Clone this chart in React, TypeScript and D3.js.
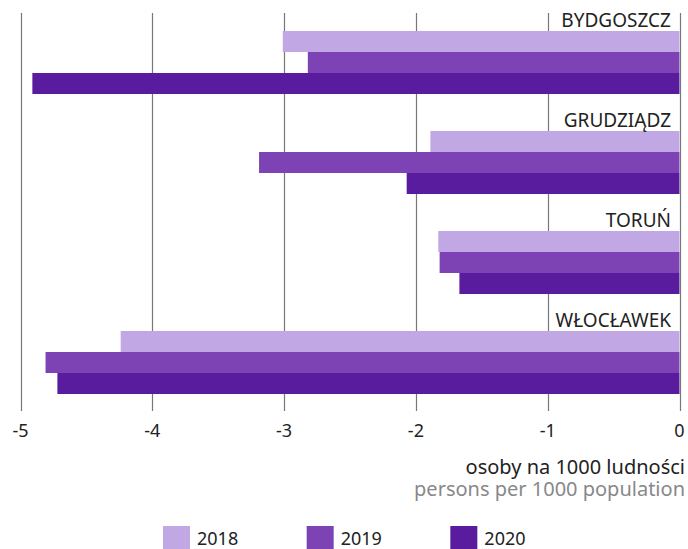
import React, { useEffect, useRef } from "react";
import * as d3 from "d3";

// data
const cities = ["BYDGOSZCZ", "GRUDZIĄDZ", "TORUŃ", "WŁOCŁAWEK"];
const years = ["2018", "2019", "2020"];
const values2018 = [-3.01, -1.89, -1.83, -4.24];
const values2019 = [-2.82, -3.19, -1.82, -4.81];
const values2020 = [-4.91, -2.07, -1.67, -4.72];
const xTicks = [-5, -4, -3, -2, -1, 0];
const colors = ["#c1a7e4", "#7d42b4", "#5a1c9e"];

const W = 688;
const H = 549;
const FONT = "'Noto Sans', 'Open Sans', sans-serif";

const App = () => {
  const ref = useRef<SVGSVGElement>(null);

  useEffect(() => {
    const series = [values2018, values2019, values2020];
    const svg = d3.select(ref.current);
    svg.selectAll("*").remove();

    const x = d3.scaleLinear().domain([-5, 0]).range([20.5, 679.5]);
    const y = d3.scaleBand().domain(cities).range([31, 394]).paddingInner(0.37).paddingOuter(0);
    const yInner = d3.scaleBand().domain(years).range([0, y.bandwidth()]);

    // grid lines (they run down into the tick marks)
    svg
      .append("g")
      .selectAll("line")
      .data(xTicks)
      .join("line")
      .attr("x1", (d) => Math.round(x(d)) + 0.5)
      .attr("x2", (d) => Math.round(x(d)) + 0.5)
      .attr("y1", 13)
      .attr("y2", 411)
      .attr("stroke", "#777")
      .attr("stroke-width", 1.2);

    // bars
    const groups = svg
      .append("g")
      .selectAll("g")
      .data(cities)
      .join("g")
      .attr("transform", (d) => `translate(0,${y(d)})`);

    groups
      .selectAll("rect")
      .data((c, ci) => years.map((yr, yi) => ({ yr, yi, v: series[yi][ci] })))
      .join("rect")
      .attr("x", (d) => x(d.v))
      .attr("y", (d) => yInner(d.yr)!)
      .attr("width", (d) => x(0) - x(d.v))
      .attr("height", yInner.bandwidth())
      .attr("fill", (d) => colors[d.yi]);

    // city labels
    groups
      .append("text")
      .attr("x", 671)
      .attr("y", -4)
      .attr("text-anchor", "end")
      .attr("font-family", FONT)
      .attr("font-size", 19)
      .attr("fill", "#222")
      .text((d) => d);

    // tick labels
    svg
      .append("g")
      .selectAll("text")
      .data(xTicks)
      .join("text")
      .attr("x", (d) => x(d))
      .attr("y", 437)
      .attr("text-anchor", "middle")
      .attr("font-family", FONT)
      .attr("font-size", 18)
      .attr("fill", "#222")
      .text((d) => (d < 0 ? "-" + Math.abs(d) : String(d)));

    // axis titles
    svg
      .append("text")
      .attr("x", 685)
      .attr("y", 474)
      .attr("text-anchor", "end")
      .attr("font-family", FONT)
      .attr("font-size", 20)
      .attr("fill", "#222")
      .text("osoby na 1000 ludności");

    svg
      .append("text")
      .attr("x", 685)
      .attr("y", 496)
      .attr("text-anchor", "end")
      .attr("font-family", FONT)
      .attr("font-size", 20)
      .attr("fill", "#888")
      .text("persons per 1000 population");

    // legend
    const lx = d3.scaleBand().domain(years).range([163, 594]);
    const leg = svg
      .append("g")
      .selectAll("g")
      .data(years)
      .join("g")
      .attr("transform", (d) => `translate(${lx(d)},526)`);
    leg
      .append("rect")
      .attr("width", 27)
      .attr("height", 27)
      .attr("fill", (d, i) => colors[i]);
    leg
      .append("text")
      .attr("x", 34)
      .attr("y", 19)
      .attr("font-family", FONT)
      .attr("font-size", 18)
      .attr("fill", "#222")
      .text((d) => d);
  }, []);

  return (
    <svg
      ref={ref}
      width={W}
      height={H}
      style={{ position: "absolute", left: 0, top: 0, background: "#fff" }}
    />
  );
};

export default App;
